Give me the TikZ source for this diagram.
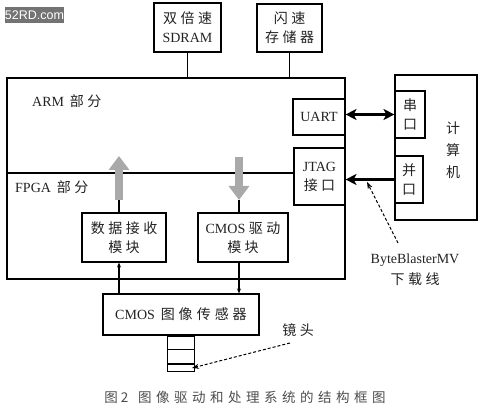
\documentclass[tikz,border=0pt]{standalone}
\usepackage{fontspec}
\setmainfont{Liberation Serif}
\newfontfamily\cjk{Noto Sans CJK SC}
\newfontfamily\wmfont{Liberation Sans}
\usetikzlibrary{arrows.meta}
\newcommand\gp{\hspace{3.5pt}}
\newcommand\cg{\hspace{4.5pt}}
\definecolor{arrgray}{HTML}{A9A9A9}
\definecolor{txt}{HTML}{222222}
\begin{document}
\begin{tikzpicture}[x=1pt,y=-1pt,
  box/.style={draw=black, line width=1.1pt, rectangle, inner sep=0pt, align=center,
     font=\fontsize{14}{19}\selectfont, text=txt},
  lbl/.style={inner sep=0pt, font=\fontsize{14}{19}\selectfont, text=txt, align=center},
  conn/.style={draw=black, line width=1.1pt},
  thickarr/.style={line width=2.2pt, -{Stealth[length=11pt,width=11pt,inset=3pt]}},
  grayarr/.style={draw=arrgray, line width=8pt, -{Triangle[length=14pt,width=20pt]}},
  smallarr/.style={line width=1.1pt, -{Stealth[length=5pt,width=4pt]}},
  dasharr/.style={line width=1pt, dashed, dash pattern=on 3pt off 2pt, -{Stealth[length=7pt,width=5pt]}}
]
\useasboundingbox (0,0) rectangle (480,409);
% watermark
\node[fill=black!55, minimum width=57pt, minimum height=16pt, inner sep=0pt, text=white,
  font=\fontsize{12.5}{13}\selectfont\wmfont] (wm) at (34.5,15) {52RD.com};
% top boxes
\node[box, minimum width=67pt, minimum height=49pt] (sdram) at (187.5,27.5)
  {{\cjk 双\gp 倍\gp 速}\\SDRAM};
\node[box, minimum width=65pt, minimum height=48pt] (flash) at (289.5,28)
  {{\cjk 闪\gp 速}\\{\cjk 存\gp 储\gp 器}};
% main box
\node[draw=black, line width=1.1pt, minimum width=338pt, minimum height=201pt, inner sep=0pt] (main) at (176,178.5) {};
\draw[conn] (sdram.south) -- (sdram.south |- main.north);
\draw[conn] (flash.south) -- (flash.south |- main.north);
% uart / jtag
\node[box, minimum width=52pt, minimum height=36pt] (uart) at (319,117) {UART};
\node[box, minimum width=51pt, minimum height=57pt] (jtag) at (319.5,176.5) {JTAG\\{\cjk 接\gp 口}};
% divider
\coordinate (divl) at (7,173);
\draw[conn] (divl) -- (divl -| jtag.west);
% labels
\node[lbl, anchor=west] (arm) at (32,101) {ARM \,{\cjk 部\gp 分}};
\node[lbl, anchor=west] (fpga) at (15,187) {FPGA \,{\cjk 部\gp 分}};
% computer
\node[box, minimum width=82pt, minimum height=145pt] (pc) at (436,147.5) {};
\node[box, minimum width=30pt, minimum height=47pt] (ser) at (410,114.5) {{\cjk 串}\\{\cjk 口}};
\node[box, minimum width=28pt, minimum height=47pt] (par) at (409,179.5) {{\cjk 并}\\{\cjk 口}};
\node[lbl, font=\fontsize{14}{22}\selectfont] (pcl) at (453,150) {{\cjk 计}\\{\cjk 算}\\{\cjk 机}};
% arrows to computer
\draw[thickarr, {Stealth[length=11pt,width=11pt,inset=3pt]}-{Stealth[length=11pt,width=11pt,inset=3pt]}]
  (uart.east |- ser.west) -- (ser.west);
\draw[thickarr] (par.west) -- (par.west -| jtag.east);
% byteblaster
\node[lbl] (bb) at (415,260) {ByteBlasterMV};
\node[lbl] (bbd) at (415,279) {\cjk 下\gp 载\gp 线};
\coordinate (bbs) at (398,243);
\coordinate (bbt) at (367,182);
\draw[dasharr] (bbs) -- (bbt);
% fpga modules
\node[box, minimum width=84pt, minimum height=49pt] (recv) at (124,237.5)
  {{\cjk 数\gp 据\gp 接\gp 收}\\{\cjk 模\gp 块}};
\node[box, minimum width=90pt, minimum height=49pt] (drive) at (243,237.5)
  {CMOS {\cjk 驱\gp 动}\\{\cjk 模\gp 块}};
% gray arrows
\coordinate (upb) at (119,200);
\coordinate (upt) at (119,156);
\coordinate (dnt) at (239,157);
\coordinate (dnb) at (239,200);
\draw[conn] (upb) -- (upb |- recv.north);
\draw[conn] (dnb) -- (dnb |- drive.north);
\draw[grayarr] (upb) -- (upt);
\draw[grayarr] (dnt) -- (dnb);
% sensor
\node[box, minimum width=156pt, minimum height=41pt] (sensor) at (181,314.5)
  {CMOS \,{\cjk 图\hspace{4pt}像\hspace{4pt}传\hspace{4pt}感\hspace{4pt}器}};
\draw[smallarr] (sensor.north -| upb) -- (recv.south -| upb);
\draw[smallarr] (drive.south -| dnb) -- (sensor.north -| dnb);
% lens
\node[draw=black, line width=1.1pt, minimum width=27pt, minimum height=35pt, inner sep=0pt, anchor=north] (lens) at (sensor.south) {};
\draw[line width=1pt] ([yshift=-14pt]lens.north west) -- ([yshift=-14pt]lens.north east);
\draw[line width=2pt] ([yshift=-28pt]lens.north west) -- ([yshift=-28pt]lens.north east);
\node[lbl] (lensl) at (298,330) {\cjk 镜\gp 头};
\coordinate (lss) at (290,343);
\coordinate (lst) at (192,368);
\draw[dasharr] (lss) -- (lst);
% caption
\node[lbl, font=\fontsize{13.5}{15}\selectfont, text=black!70] (cap) at (245,397)
  {\cjk 图\hspace{3pt}2\hspace{10pt}图\cg 像\cg 驱\cg 动\cg 和\cg 处\cg 理\cg 系\cg 统\cg 的\cg 结\cg 构\cg 框\cg 图};
\end{tikzpicture}
\end{document}
